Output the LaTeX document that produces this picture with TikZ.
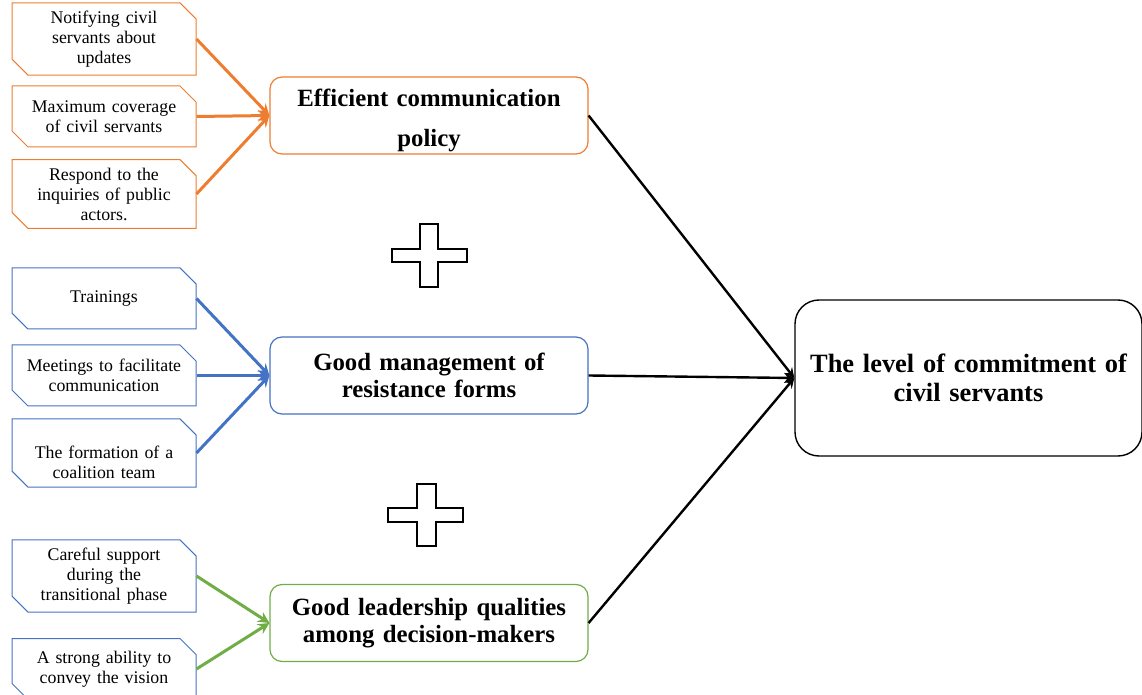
\documentclass[tikz,border=0pt]{standalone}
\usepackage{fontspec}
\setmainfont{Liberation Serif}
\usetikzlibrary{shapes.misc}

\definecolor{hporange}{HTML}{ED7D31}
\definecolor{hpblue}{HTML}{4472C4}
\definecolor{hpgreen}{HTML}{70AD47}

\begin{document}
\begin{tikzpicture}[x=0.5pt, y=-0.5pt,
  factor/.style={draw, line width=0.5pt, chamfered rectangle,
                 chamfered rectangle corners={north east, south west},
                 chamfered rectangle xsep=4pt, chamfered rectangle ysep=4pt,
                 minimum width=92pt, minimum height=30.5pt, text width=84pt,
                 inner sep=0pt, align=center, font=\fontsize{8.9}{10}\selectfont},
  pillar/.style={draw, line width=0.6pt, rounded corners=6pt, minimum width=159pt,
                 minimum height=38.5pt, text width=155pt, inner sep=0pt, align=center,
                 font=\fontsize{12.4}{13.5}\selectfont\bfseries},
  result/.style={draw, line width=0.7pt, rounded corners=12pt, minimum width=173.5pt,
                 minimum height=78pt, text width=172pt, inner sep=0pt, align=center,
                 font=\fontsize{13.2}{14.5}\selectfont\bfseries},
  feed/.style={->, >=stealth, line width=1.5pt},
  flow/.style={->, >=stealth, line width=1.2pt},
  plus/.style={draw, line width=0.7pt}]
  \clip (0,0) rectangle (1142,695);

  % communication factors
  \node[factor, hporange] (notify) at (104,39)
    {\color{black}Notifying civil\\ servants about\\ updates};
  \node[factor, hporange] (coverage) at (104,116.5)
    {\color{black}Maximum coverage\\ of civil servants};
  \node[factor, hporange] (inquiry) at (104,194)
    {\color{black}Respond to the\\ inquiries of public\\ actors.};

  % resistance factors
  \node[factor, hpblue] (training) at (104,298.5) {\color{black}Trainings};
  \node[factor, hpblue] (meeting) at (104,375.5)
    {\color{black}Meetings to facilitate\\ communication};
  \node[factor, hpblue] (coalition) at (104,453)
    {\color{black}\rule{0pt}{16pt}The formation of a\\ coalition team};

  % leadership factors
  \node[factor, hpblue] (support) at (104,576)
    {\color{black}Careful support\\ during the\\ transitional phase};
  \node[factor, hpblue] (vision) at (104,669)
    {\color{black}A strong ability to\\ convey the vision};

  \node[pillar, hporange] (comm) at (429,115.5)
    {\color{black}\rule{0pt}{14pt}Efficient communication\\[6.5pt] policy};
  \node[pillar, hpblue] (resist) at (429,375.5)
    {\color{black}Good management of\\ resistance forms};
  \node[pillar, hpgreen] (lead) at (429,623)
    {\color{black}Good leadership qualities\\ among decision-makers};
  \node[result] (commit) at (968.5,378)
    {The level of commitment of\\ civil servants};

  \foreach \src in {notify, coverage, inquiry}
    \draw[feed, hporange] (\src.east) -- (comm.west);
  \foreach \src in {training, meeting, coalition}
    \draw[feed, hpblue] (\src.east) -- (resist.west);
  \foreach \src in {support, vision}
    \draw[feed, hpgreen] (\src.east) -- (lead.west);

  \draw[flow] (comm.east) -- (commit.west);
  \draw[flow] (resist.east) -- (commit.west);
  \draw[flow] (lead.east) -- (commit.west);

  % plus signs
  \draw[plus] (420,224) -- (438,224) -- (438,249) -- (467,249) -- (467,262)
    -- (438,262) -- (438,287) -- (420,287) -- (420,262) -- (392,262)
    -- (392,249) -- (420,249) -- cycle;
  \draw[plus] (417,484) -- (436,484) -- (436,508) -- (463,508) -- (463,522)
    -- (436,522) -- (436,546) -- (417,546) -- (417,522) -- (388,522)
    -- (388,508) -- (417,508) -- cycle;
\end{tikzpicture}
\end{document}
